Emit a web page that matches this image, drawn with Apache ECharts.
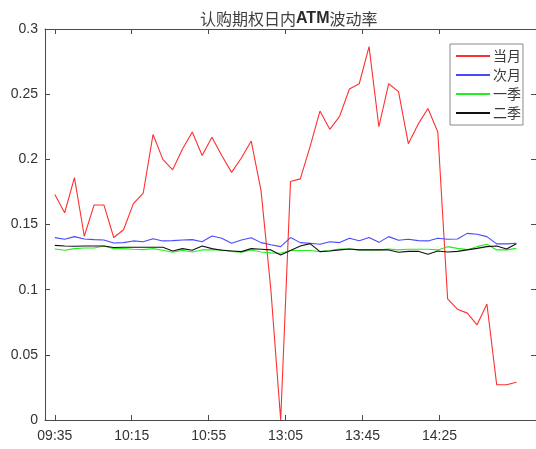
<!DOCTYPE html>
<html>
<head>
<meta charset="utf-8">
<script src="https://cdn.jsdelivr.net/npm/echarts@6/dist/echarts.min.js"></script>
<style>
html,body{margin:0;padding:0;background:#fff;}
#c{width:536px;height:449px;}
</style>
</head>
<body>
<div id="c"></div>
<script>
// Time stamps (5-minute bars)
const times = [
  '09:35','09:40','09:45','09:50','09:55','10:00','10:05','10:10','10:15','10:20','10:25','10:30',
  '10:35','10:40','10:45','10:50','10:55','11:00','11:05','11:10','11:15','11:20','11:25','11:30',
  '13:05','13:10','13:15','13:20','13:25','13:30','13:35','13:40','13:45','13:50','13:55','14:00',
  '14:05','14:10','14:15','14:20','14:25','14:30','14:35','14:40','14:45','14:50','14:55','15:00'
];
// 当月
const dangyue = [
  0.173,0.159,0.186,0.141,0.165,0.165,0.140,0.146,0.166,0.174,0.219,0.200,
  0.192,0.208,0.221,0.203,0.217,0.203,0.190,0.201,0.214,0.176,0.100,0.000,
  0.183,0.185,0.210,0.237,0.223,0.233,0.254,0.258,0.2865,0.225,0.258,0.252,
  0.212,0.227,0.239,0.221,0.093,0.085,0.082,0.073,0.089,0.027,0.027,0.029
];
// 次月
const ciyue = [
  0.1399,0.1387,0.1407,0.1389,0.1384,0.1381,0.1358,0.1361,0.1374,0.1368,0.1391,0.1374,
  0.1376,0.1381,0.1384,0.1368,0.1412,0.1394,0.1356,0.1381,0.1399,0.1361,0.1345,0.1330,
  0.1400,0.1361,0.1356,0.1348,0.1368,0.1361,0.1394,0.1376,0.1401,0.1363,0.1407,0.1379,
  0.1387,0.1376,0.1374,0.1394,0.1387,0.1389,0.1432,0.1425,0.1407,0.1351,0.1351,0.1356
];
// 一季
const yiji = [
  0.1312,0.1302,0.1315,0.1320,0.1320,0.1335,0.1315,0.1315,0.1310,0.1307,0.1315,0.1302,
  0.1287,0.1302,0.1289,0.1305,0.1305,0.1305,0.1294,0.1287,0.1305,0.1289,0.1282,0.1279,
  0.1300,0.1300,0.1300,0.1292,0.1300,0.1312,0.1312,0.1305,0.1305,0.1305,0.1312,0.1305,
  0.1310,0.1310,0.1310,0.1305,0.1330,0.1317,0.1307,0.1330,0.1348,0.1305,0.1305,0.1317
];
// 二季
const erji = [
  0.1340,0.1335,0.1333,0.1335,0.1335,0.1335,0.1323,0.1325,0.1325,0.1325,0.1325,0.1325,
  0.1297,0.1315,0.1302,0.1335,0.1315,0.1302,0.1297,0.1292,0.1315,0.1310,0.1305,0.1266,
  0.1300,0.1335,0.1353,0.1292,0.1297,0.1305,0.1312,0.1305,0.1305,0.1305,0.1305,0.1287,
  0.1294,0.1294,0.1271,0.1297,0.1289,0.1294,0.1305,0.1317,0.1330,0.1335,0.1312,0.1353
];
const seriesNames = ['当月','次月','一季','二季'];

const N = times.length;
const step = (N - 1) / 6;
const tickVals = [0,1,2,3,4,5].map(k => k * step);
const labelFor = v => times[Math.round(v / step) * 8];

const font = "'Liberation Sans', Arial, 'Noto Sans CJK SC', sans-serif";
const axisColor = '#4a4a4a';

function pairs(arr){ return arr.map((v,i)=>[i,v]); }

const chart = echarts.init(document.getElementById('c'), null, {renderer:'canvas'});
chart.setOption({
  animation:false,
  backgroundColor:'#fff',
  title:{
    text:'{c|认购期权日内}{b|ATM}{c|波动率}',
    left:195, top:6,
    textStyle:{
      rich:{
        c:{fontFamily:"'Noto Sans CJK SC', sans-serif", fontSize:16, color:'#404040', fontWeight:'normal'},
        b:{fontFamily:font, fontSize:16, color:'#2a2a2a', fontWeight:'bold'}
      }
    }
  },
  legend:{
    orient:'vertical', left:450, top:44,
    data:seriesNames,
    backgroundColor:'#fff', borderColor:'#8a8a8a', borderWidth:1,
    padding:[5,2,5,5],
    itemWidth:34, itemHeight:14, itemGap:5,
    itemStyle:{opacity:0},
    textStyle:{fontFamily:"'Noto Sans CJK SC', sans-serif", fontSize:14, color:'#3a3a3a', padding:[0,0,0,-2]}
  },
  grid:{left:45, top:29, right:-1, bottom:29, containLabel:false},
  xAxis:[{
    type:'value', min:-1, max:49, position:'bottom',
    axisLine:{show:true, onZero:false, lineStyle:{color:axisColor, width:1}},
    axisTick:{show:true, inside:true, length:5, customValues:tickVals, lineStyle:{color:axisColor}},
    axisLabel:{show:true, customValues:tickVals, formatter:labelFor, margin:9,
      fontFamily:font, fontSize:14, color:'#333'},
    splitLine:{show:false}
  },{
    type:'value', min:-1, max:49, position:'top',
    axisLine:{show:true, onZero:false, lineStyle:{color:axisColor, width:1}},
    axisTick:{show:true, inside:true, length:5, customValues:tickVals, lineStyle:{color:axisColor}},
    axisLabel:{show:false},
    splitLine:{show:false}
  }],
  yAxis:[{
    type:'value', min:0, max:0.3, interval:0.05, position:'left',
    axisLine:{show:true, onZero:false, lineStyle:{color:axisColor, width:1}},
    axisTick:{show:true, inside:true, length:5, lineStyle:{color:axisColor}},
    axisLabel:{show:true, margin:7, fontFamily:font, fontSize:14, color:'#333'},
    splitLine:{show:false}
  },{
    type:'value', min:0, max:0.3, interval:0.05, position:'right',
    axisLine:{show:true, onZero:false, lineStyle:{color:axisColor, width:1}},
    axisTick:{show:true, inside:true, length:5, lineStyle:{color:axisColor}},
    axisLabel:{show:false},
    splitLine:{show:false}
  }],
  series:[
    {name:'当月', type:'line', data:pairs(dangyue), symbol:'none', color:'#ff3030', lineStyle:{width:1.1, color:'#ff3030'}},
    {name:'次月', type:'line', data:pairs(ciyue), symbol:'none', color:'#4848ff', lineStyle:{width:1.1, color:'#4848ff'}},
    {name:'一季', type:'line', data:pairs(yiji), symbol:'none', color:'#22ee22', lineStyle:{width:1.1, color:'#22ee22'}},
    {name:'二季', type:'line', data:pairs(erji), symbol:'none', color:'#111111', lineStyle:{width:1.1, color:'#111111'}}
  ]
});
</script>
</body>
</html>
